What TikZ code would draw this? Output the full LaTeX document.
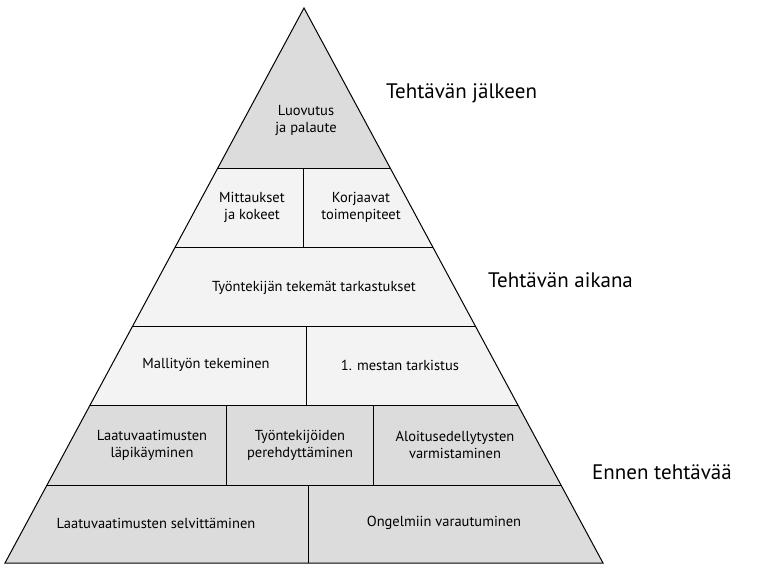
\documentclass[tikz,border=0pt]{standalone}
\usepackage{fontspec}
\setmainfont{PT Sans}
\begin{document}
\begin{tikzpicture}[x=1pt,y=-1pt,
  lab/.style={font=\fontsize{14.5}{17}\selectfont,align=center,inner sep=0},
  side/.style={font=\fontsize{21}{24}\selectfont,anchor=west,inner sep=0}]
\definecolor{gr}{HTML}{DCDCDC}
\definecolor{lt}{HTML}{F3F3F3}
\useasboundingbox (0,0) rectangle (764,576);
\coordinate (A) at (304,8);
\coordinate (L) at (5,563);
\coordinate (R) at (603,563);
\begin{scope}
\clip (A) -- (L) -- (R) -- cycle;
\fill[gr] (0,0) rectangle (764,168);
\fill[lt] (0,168) rectangle (764,405);
\fill[gr] (0,405) rectangle (764,563);
\foreach \y in {168,247,326,405,485} \draw[line width=0.8pt] (0,\y) -- (764,\y);
\draw[line width=0.8pt] (303,168) -- (303,247);
\draw[line width=0.8pt] (306,326) -- (306,405);
\draw[line width=0.8pt] (226,405) -- (226,485);
\draw[line width=0.8pt] (373,405) -- (373,485);
\draw[line width=0.8pt] (308,485) -- (308,563);
\end{scope}
\draw[line width=1pt,line join=miter] (A) -- (L) -- (R) -- cycle;
\node[lab] (n1) at (306,120) {Luovutus\\ja palaute};
\node[lab] (n2) at (252,207) {Mittaukset\\ja kokeet};
\node[lab] (n3) at (361,207) {Korjaavat\\toimenpiteet};
\node[lab] (n4) at (314,288) {Työntekijän tekemät tarkastukset};
\node[lab] (n5) at (206,365) {Mallityön tekeminen};
\node[lab] (n6) at (400,365) {1. mestan tarkistus};
\node[lab] (n7) at (152,445) {Laatuvaatimusten\\läpikäyminen};
\node[lab] (n8) at (300,445) {Työntekijöiden\\perehdyttäminen};
\node[lab] (n9) at (455,445) {Aloitusedellytysten\\varmistaminen};
\node[lab] (n10) at (156,523) {Laatuvaatimusten selvittäminen};
\node[lab] (n11) at (444,523) {Ongelmiin varautuminen};
\node[side] (s1) at (386,93) {Tehtävän jälkeen};
\node[side] (s2) at (488,280) {Tehtävän aikana};
\node[side] (s3) at (592,472) {Ennen tehtävää};
\end{tikzpicture}
\end{document}
